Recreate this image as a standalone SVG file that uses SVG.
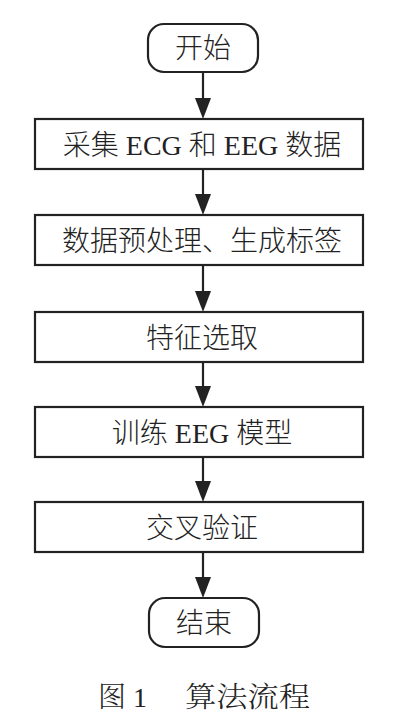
<svg xmlns="http://www.w3.org/2000/svg" width="400" height="717" viewBox="0 0 400 717">
<defs>
<style>
.box{fill:#fff;stroke:#222;stroke-width:2.2}
.t{font-family:"Liberation Serif","Noto Sans CJK SC",serif;font-size:28px;font-weight:300;fill:#222;text-anchor:middle}
.c{stroke:#222;stroke-width:2.2;fill:none}
.cap{font-family:"Liberation Serif","Noto Serif CJK SC","Noto Sans CJK SC",serif;font-size:28px;font-weight:300;fill:#222}
</style>
</defs>
<rect width="400" height="717" fill="#fff"/>
<g id="connectors">
<line class="c" x1="203" y1="72" x2="203" y2="99"/><polygon points="195,98 211,98 203,119" fill="#222"/>
<line class="c" x1="203" y1="169" x2="203" y2="195"/><polygon points="195,194 211,194 203,215" fill="#222"/>
<line class="c" x1="203" y1="265" x2="203" y2="292"/><polygon points="195,291 211,291 203,312" fill="#222"/>
<line class="c" x1="203" y1="362" x2="203" y2="387"/><polygon points="195,386 211,386 203,407" fill="#222"/>
<line class="c" x1="203" y1="457" x2="203" y2="482"/><polygon points="195,481 211,481 203,502" fill="#222"/>
<line class="c" x1="203" y1="552" x2="203" y2="578"/><polygon points="195,577 211,577 203,598" fill="#222"/>
</g>
<g id="start"><rect class="box" x="148" y="24" width="110" height="48" rx="16"/><text class="t" x="203" y="58">开始</text></g>
<g id="n1"><rect class="box" x="35" y="119" width="328" height="50"/><text class="t" x="202" y="155">采集 ECG 和 EEG 数据</text></g>
<g id="n2"><rect class="box" x="35" y="215" width="328" height="50"/><text class="t" x="202" y="251">数据预处理、生成标签</text></g>
<g id="n3"><rect class="box" x="35" y="312" width="328" height="50"/><text class="t" x="202" y="348">特征选取</text></g>
<g id="n4"><rect class="box" x="35" y="407" width="328" height="50"/><text class="t" x="202" y="443">训练 EEG 模型</text></g>
<g id="n5"><rect class="box" x="35" y="502" width="328" height="50"/><text class="t" x="202" y="538">交叉验证</text></g>
<g id="end"><rect class="box" x="149" y="598" width="110" height="49" rx="16"/><text class="t" x="204" y="633">结束</text></g>
<text class="cap" x="98" y="707">图 1</text>
<text class="cap" x="185" y="707" textLength="125" lengthAdjust="spacingAndGlyphs">算法流程</text>
</svg>
